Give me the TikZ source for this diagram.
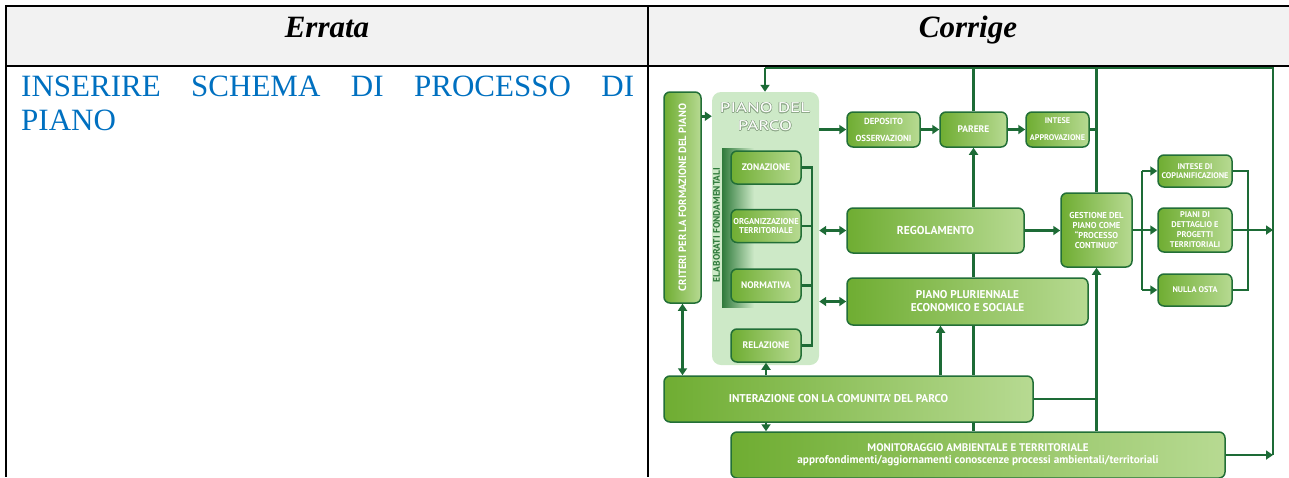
\documentclass[tikz,border=0pt]{standalone}
\usepackage{fontspec,graphicx}
\usepackage{contour}
\setmainfont{Liberation Serif}
\newfontfamily\diafont{PT Sans}
\newfontfamily\titlefont[FakeStretch=1.35]{PT Sans}
\usetikzlibrary{arrows.meta,calc}

\definecolor{boxdark}{HTML}{6FAD32}
\definecolor{boxlight}{HTML}{B7DA92}
\definecolor{edgegreen}{HTML}{226F37}
\definecolor{wiregreen}{HTML}{1D6B36}
\definecolor{panelgreen}{HTML}{CDE9C7}
\definecolor{stripdark}{HTML}{2F7A3B}
\definecolor{headgray}{HTML}{F2F2F2}
\definecolor{linkblue}{HTML}{0070C0}
\definecolor{titleedge}{HTML}{8FA98A}

\newcommand{\fsz}[1]{\fontsize{#1}{#1}\selectfont}

\begin{document}
\begin{tikzpicture}[
  x=1pt,y=-1pt,
  >={Triangle[length=7pt,width=9pt]},
  font=\diafont\bfseries,
  box/.style={draw=edgegreen,line width=1.5pt,rounded corners=6pt,
    left color=boxdark,right color=boxlight,text=white,align=center,
    inner sep=0pt},
  sub/.style={box,minimum width=70pt,minimum height=33pt},
  side/.style={box,minimum width=74pt},
  wire/.style={draw=wiregreen,line width=2.6pt},
  arr/.style={wire,->},
  darr/.style={wire,<->},
  grid/.style={line width=2pt},
  head/.style={anchor=base,font=\fontsize{31}{34}\selectfont\rmfamily\bfseries\itshape}
]
\useasboundingbox (0,0) rectangle (1289,477);

% table
\fill[headgray] (6,6) rectangle (1289,66);
\draw[grid] (1289,6) -- (6,6) -- (6,477);
\draw[grid] (6,66) -- (1289,66);
\draw[grid] (648,6) -- (648,477);
\node[head] (errata) at (327,37) {Errata};
\node[head] (corrige) at (968,37) {Corrige};
\node[anchor=base west,align=left,inner sep=0pt,text=linkblue,
  font=\fontsize{31}{34}\selectfont\rmfamily]
  (todo) at (21,130) {\makebox[613pt][s]{INSERIRE SCHEMA DI PROCESSO DI}\\PIANO};

% piano del parco
\node[box,minimum width=37pt,minimum height=211pt] (criteri) at (682.5,197.5)
 {\rotatebox{90}{\fsz{10.5}CRITERI PER LA FORMAZIONE DEL PIANO}};
\node[fill=panelgreen,rounded corners=9pt,minimum width=107pt,
  minimum height=273pt,inner sep=0pt] (panel) at (765.5,228.5) {};
\node[font=\titlefont\fontsize{14}{18}\selectfont,text=white,align=center,inner sep=0pt]
 (ptitle) at (765,117)
 {\contourlength{0.5pt}\contour{titleedge}{PIANO DEL}\\
  \contour{titleedge}{PARCO}};
\shade[left color=stripdark,right color=panelgreen] (722,148) rectangle (754,307);
\node[rotate=90,text=stripdark,font=\diafont\bfseries\fsz{9.5}] (elab) at (716.5,225)
 {ELABORATI FONDAMENTALI};
\node[sub] (zona) at (766,167.5) {\fsz{9.5}ZONAZIONE};
\node[sub,font=\diafont\bfseries\fontsize{8.5}{9.5}\selectfont] (org) at (766,226)
 {ORGANIZZAZIONE\\TERRITORIALE};
\node[sub] (norm) at (766,285.5) {\fsz{9.5}NORMATIVA};
\node[sub] (rel) at (766,345.5) {\fsz{9.5}RELAZIONE};

% iter di approvazione
\node[box,minimum width=73pt,minimum height=35pt,
  font=\diafont\bfseries\fontsize{8.8}{17}\selectfont] (depo) at (883.5,129.5)
 {DEPOSITO\\OSSERVAZIONI};
\node[box,minimum width=67pt,minimum height=35pt] (parere) at (973.5,129.5)
 {\fsz{9.5}PARERE};
\node[box,minimum width=63pt,minimum height=35pt,
  font=\diafont\bfseries\fontsize{8.2}{17}\selectfont] (intese) at (1057.5,129.5)
 {INTESE\\APPROVAZIONE};
\node[box,minimum width=177pt,minimum height=45pt] (regol) at (935.5,230.5)
 {\fsz{11.5}REGOLAMENTO};
\node[box,minimum width=241pt,minimum height=47pt,
  font=\diafont\bfseries\fontsize{11.3}{13}\selectfont] (pp) at (967.5,301.5)
 {PIANO PLURIENNALE\\ECONOMICO E SOCIALE};
\node[box,minimum width=71pt,minimum height=74pt,
  font=\diafont\bfseries\fontsize{8.6}{10}\selectfont] (gest) at (1096.5,230)
 {GESTIONE DEL\\PIANO COME\\“PROCESSO\\CONTINUO”};
\node[side,minimum height=32pt,font=\diafont\bfseries\fontsize{8.2}{9.5}\selectfont]
 (copian) at (1195,171) {INTESE DI\\COPIANIFICAZIONE};
\node[side,minimum height=44pt,font=\diafont\bfseries\fontsize{8.3}{10}\selectfont]
 (dett) at (1195,230) {PIANI DI\\DETTAGLIO E\\PROGETTI\\TERRITORIALI};
\node[side,minimum height=32pt] (nulla) at (1195,290) {\fsz{8.2}NULLA OSTA};
\node[box,minimum width=369pt,minimum height=46pt] (inter) at (848.5,399)
 {\hspace*{-20pt}\fsz{11.3}INTERAZIONE CON LA COMUNITA’ DEL PARCO};
\node[box,minimum width=494pt,minimum height=46pt,
  font=\diafont\bfseries\fontsize{11}{11.5}\selectfont] (monit) at (978,455)
 {MONITORAGGIO AMBIENTALE E TERRITORIALE\\
  \fontsize{11.2}{11.5}\selectfont approfondimenti/aggiornamenti conoscenze processi ambientali/territoriali};

% anello di ritorno
\coordinate (tl) at (765,68);
\coordinate (tr) at (1273,68);
\coordinate (br) at (1273,455);
\coordinate (bk) at (812,0);
\coordinate (sp) at (1142,0);
\coordinate (mg) at (1248,0);
\draw[wire] (br) -- (tr) -- (tl);
\draw[arr] (tl) -- (tl |- panel.north);
\draw[wire] (parere.north) -- (parere.north |- tl);
\draw[wire] (gest.north) -- (gest.north |- tl);
\draw[wire] (intese.east) -- (intese.east -| gest.north);
\draw[arr] (monit.east) -- (br);

\draw[arr] ([yshift=-25pt]criteri.north east) -- ([yshift=-25pt]criteri.north east -| panel.west);
\draw[darr] (criteri.south) -- (criteri.south |- inter.north);
\draw[arr] (panel.east |- depo) -- (depo.west);
\draw[arr] (depo.east) -- (parere.west);
\draw[arr] (parere.east) -- (intese.west);

% elaborati
\draw[wire] (zona.east) -- (zona.east -| bk) -- (rel.east -| bk) -- (rel.east);
\draw[wire] (org.east) -- (org.east -| bk);
\draw[wire] (norm.east) -- (norm.east -| bk);
\draw[darr] (panel.east |- regol.west) -- (regol.west);
\draw[darr] (panel.east |- pp.west) -- (pp.west);

% asse centrale
\draw[arr] (regol.north -| parere) -- (parere.south);
\draw[wire] (regol.south -| parere) -- (pp.north -| parere);
\draw[wire] (pp.south -| parere) -- (inter.north -| parere);
\draw[wire] (inter.south -| parere) -- (monit.north -| parere);
\draw[arr] ([xshift=-27pt]pp.south |- inter.north) -- ([xshift=-27pt]pp.south);
\draw[arr] (inter.north -| rel) -- (rel.south);
\draw[arr] (inter.south -| rel) -- (monit.north -| rel);

% gestione
\draw[arr] (regol.east) -- (regol.east -| gest.west);
\draw[arr] (monit.north -| gest) -- (gest.south);
\draw[wire] (inter.east) -- (inter.east -| gest);
\draw[wire] (gest.east) -- (gest.east -| sp);
\draw[wire] (sp |- copian) -- (sp |- nulla);
\draw[arr] (sp |- copian) -- (copian.west);
\draw[arr] (sp |- dett) -- (dett.west);
\draw[arr] (sp |- nulla) -- (nulla.west);
\draw[wire] (copian.east) -- (copian.east -| mg) -- (nulla.east -| mg) -- (nulla.east);
\draw[wire] (dett.east) -- (dett.east -| mg);
\draw[arr] (dett.east -| mg) -- (dett.east -| br);
\end{tikzpicture}
\end{document}
